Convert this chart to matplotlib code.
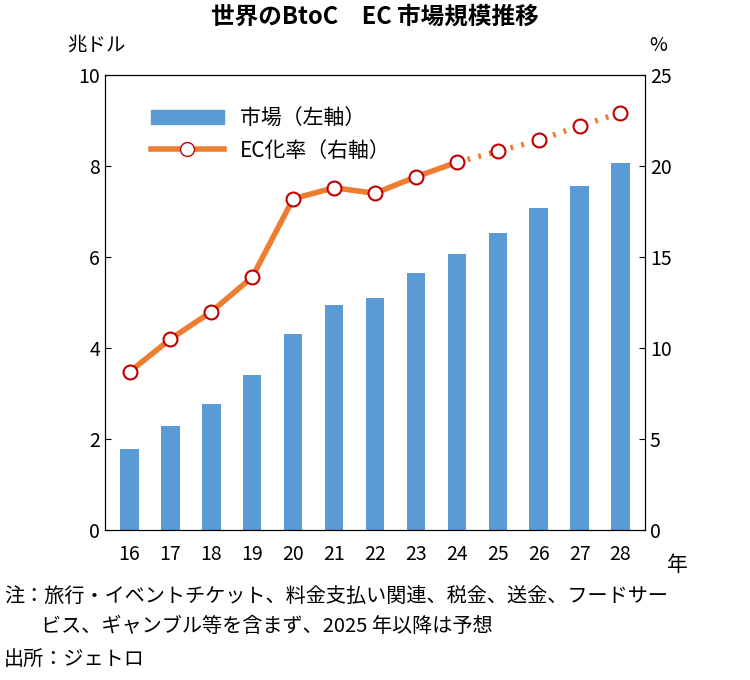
import matplotlib
matplotlib.use("Agg")
import numpy as np
from matplotlib import pyplot as plt
from matplotlib.lines import Line2D
from matplotlib.patches import Patch

plt.rcParams['font.family'] = ['Noto Sans CJK JP', 'DejaVu Sans']

years = ["16", "17", "18", "19", "20", "21", "22", "23", "24", "25", "26", "27", "28"]
market = [1.78, 2.30, 2.78, 3.42, 4.32, 4.95, 5.10, 5.65, 6.07, 6.53, 7.07, 7.55, 8.07]
ec_rate = [8.7, 10.5, 12.0, 13.9, 18.2, 18.8, 18.5, 19.4, 20.2, 20.8, 21.4, 22.2, 22.9]
n_actual = 9  # 16..24 actual, later forecast

fig = plt.figure(figsize=(7.5, 6.8), dpi=100)
ax = fig.add_axes([0.14, 0.22, 0.72, 0.67])
x = np.arange(len(years))
ax.bar(x, market, width=0.45, color="#5b9bd5")
ax.set_ylim(0, 10)
ax.set_xlim(-0.6, len(years) - 0.4)
ax.set_xticks(x)
ax.set_xticklabels(years)
ax.tick_params(labelsize=14, direction="in", length=4)
ax.tick_params(axis="x", length=0, pad=10)

ax2 = ax.twinx()
ax2.set_ylim(0, 25)
ax2.set_yticks([0, 5, 10, 15, 20, 25])
ax2.tick_params(labelsize=14, direction="in", length=4)
ax2.plot(x[:n_actual], ec_rate[:n_actual], color="#ed7d31", lw=4, zorder=3)
ax2.plot(x[n_actual - 1:], ec_rate[n_actual - 1:], color="#ed7d31", lw=4,
         linestyle=(0, (0.5, 1.5)), zorder=3)
ax2.plot(x, ec_rate, "o", ms=10, mfc="white", mec="#c00000", mew=1.5, zorder=4)

handles = [Patch(color="#5b9bd5"),
           Line2D([], [], color="#ed7d31", lw=4, marker="o", ms=10, mfc="white", mec="#c00000")]
ax.legend(handles, ["市場（左軸）", "EC化率（右軸）"], loc="upper left",
          bbox_to_anchor=(0.05, 0.97), frameon=False, fontsize=15, handlelength=3.5)

for a in (ax, ax2):
    for s in a.spines.values():
        s.set_color("black")

fig.text(0.5, 0.965, "世界のBtoC　EC 市場規模推移", ha="center", fontsize=17, fontweight="bold")
fig.text(0.09, 0.925, "兆ドル", fontsize=14)
fig.text(0.865, 0.925, "%", fontsize=14)
fig.text(0.89, 0.16, "年", fontsize=15)
fig.text(0.005, 0.115, "注：旅行・イベントチケット、料金支払い関連、税金、送金、フードサー", fontsize=14.5)
fig.text(0.055, 0.07, "ビス、ギャンブル等を含まず、2025 年以降は予想", fontsize=14.5)
fig.text(0.005, 0.022, "出所：ジェトロ", fontsize=14.5)

fig.savefig("out.png", dpi=100)
